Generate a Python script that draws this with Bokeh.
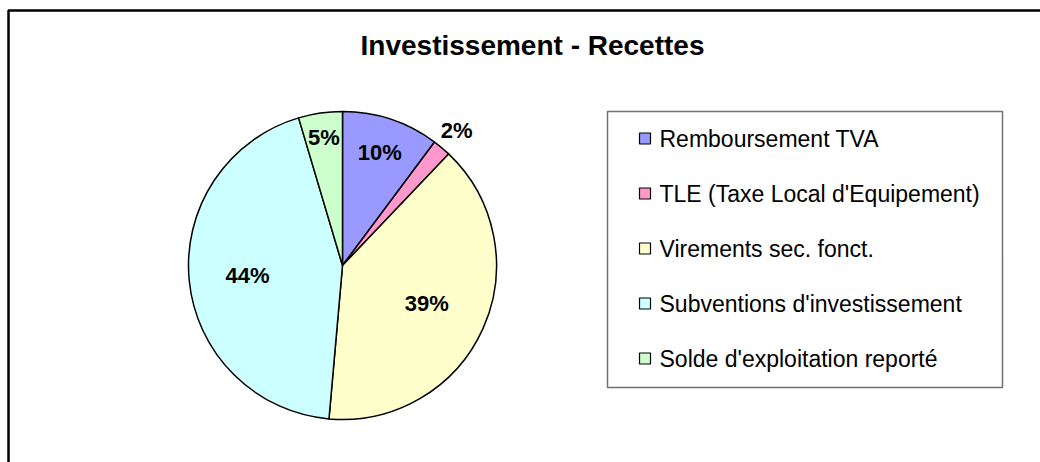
import math
from bokeh.plotting import figure
from bokeh.models import Range1d, ColumnDataSource
from bokeh.core.properties import value
from bokeh.embed import file_html
from bokeh.resources import INLINE

# ---- data ----
categories = ["Remboursement TVA", "TLE (Taxe Local d'Equipement)", "Virements sec. fonct.",
              "Subventions d'investissement", "Solde d'exploitation reporté"]
shares = [10.2, 1.9, 39.3, 44.0, 4.6]
colors = ["#9999FF", "#FF99CC", "#FFFFCC", "#CCFFFF", "#CCFFCC"]
title_text = "Investissement - Recettes"

# ---- style / layout ----
W, H = 1040, 462
FONT = "Liberation Sans"
cx, cy = 342, H - 265
R = 154
label_rf = [0.77, 1.15, 0.60, 0.62, 0.84]

total = sum(shares)
starts, ends, mids = [], [], []
acc = 0.0
for s in shares:
    a0 = math.pi / 2 - 2 * math.pi * acc / total
    acc += s
    a1 = math.pi / 2 - 2 * math.pi * acc / total
    starts.append(a0)
    ends.append(a1)
    mids.append((a0 + a1) / 2)

p = figure(width=W, height=H, output_backend="svg", toolbar_location=None,
           x_range=Range1d(0, W), y_range=Range1d(0, H), min_border=0)
p.axis.visible = False
p.grid.visible = False
p.outline_line_color = None
p.background_fill_color = "white"
p.border_fill_color = "white"

# outer chart border (only top and left visible)
p.line(x=[8, 8, W + 10], y=[-10, H - 10, H - 10], line_color="black", line_width=2.5)

# title
p.text(x=[532], y=[H - 45], text=[title_text], text_font=value(FONT), text_font_style="bold",
       text_font_size="28px", text_align="center", text_baseline="middle", text_color="black")

# pie
src = ColumnDataSource(dict(start=starts, end=ends, color=colors, cat=categories))
p.wedge(x=cx, y=cy, radius=R, radius_units="screen", start_angle="start", end_angle="end",
        direction="clock", fill_color="color", line_color="black", line_width=1.5, source=src)

# pie labels
lx = [cx + R * f * math.cos(m) for f, m in zip(label_rf, mids)]
ly = [cy + R * f * math.sin(m) for f, m in zip(label_rf, mids)]
ltxt = ["%d%%" % int(math.floor(s / total * 100 + 0.5)) for s in shares]
p.text(x=lx, y=ly, text=ltxt, text_font=value(FONT), text_font_style="bold",
       text_font_size="22px", text_align="center", text_baseline="middle", text_color="black")

# legend box
p.quad(left=[607], right=[1002], top=[H - 111], bottom=[H - 387], fill_color="white",
       line_color="#707070", line_width=1.5)
row_y = [H - (138 + 55 * i) for i in range(len(categories))]
p.rect(x=[644.5] * len(categories), y=row_y, width=11, height=11, fill_color=colors,
       line_color="black", line_width=1.2)
p.text(x=[659] * len(categories), y=row_y, text=categories, text_font=value(FONT),
       text_font_size="23px", text_align="left", text_baseline="middle", text_color="black")

open("out.html", "w").write(file_html(p, INLINE))
